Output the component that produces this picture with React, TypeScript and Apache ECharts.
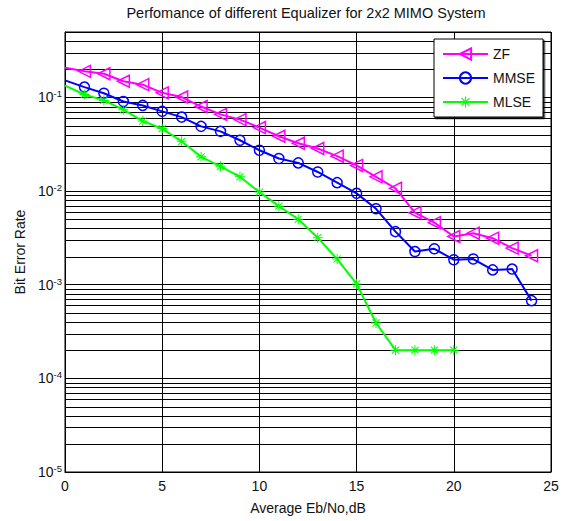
import React, { useEffect, useRef } from "react";
import * as echarts from "echarts";

const snrValues = [0, 1, 2, 3, 4, 5, 6, 7, 8, 9, 10, 11, 12, 13, 14, 15, 16, 17, 18, 19, 20, 21, 22, 23, 24];
const zfBer = [0.208, 0.19, 0.179, 0.149, 0.137, 0.112, 0.101, 0.08, 0.066, 0.058, 0.0477, 0.0385, 0.0324, 0.0285, 0.0236, 0.0188, 0.0142, 0.0107, 0.00588, 0.0046, 0.00327, 0.00355, 0.00314, 0.00246, 0.00204];
const mmseBer = [0.152, 0.129, 0.111, 0.0906, 0.0822, 0.071, 0.0617, 0.0491, 0.0434, 0.0349, 0.0273, 0.0223, 0.02, 0.016, 0.0123, 0.00946, 0.00647, 0.00369, 0.00226, 0.00242, 0.00185, 0.00188, 0.00144, 0.00147, 0.000676];
const mlseBer = [0.134, 0.1076, 0.093, 0.074, 0.056, 0.0465, 0.034, 0.0232, 0.0184, 0.0142, 0.00976, 0.0069, 0.005, 0.00318, 0.00188, 0.00102, 0.00039, 0.0002, 0.0002, 0.0002, 0.0002];
const seriesNames = ["ZF", "MMSE", "MLSE"];
const titleText = "Perfomance of different Equalizer for 2x2 MIMO System";
const xName = "Average Eb/No,dB";
const yName = "Bit Error Rate";
const decadeExponents = [-5, -4, -3, -2, -1];
const minorMultipliers = [2, 3, 4, 5, 6, 7, 8, 9];
const xMin = 0;
const xMax = 25;
const yMin = 1e-5;
const yMax = 0.5;

const FONT = "'Liberation Sans', Arial, sans-serif";
const ASTERISK =
  "path://M9 0h2v20h-2z M0 9h20v2H0z M2.2 3.6L3.6 2.2L17.8 16.4L16.4 17.8z M16.4 2.2L17.8 3.6L3.6 17.8L2.2 16.4z";

function toData(values: number[]) {
  return values.map((v, i) =>
    i === 0 ? { value: [snrValues[i], v], symbol: "none" } : { value: [snrValues[i], v] }
  );
}

export default function App() {
  const ref = useRef<HTMLDivElement>(null);
  useEffect(() => {
    if (!ref.current) return;
    const chart = echarts.init(ref.current, null, { renderer: "svg" });
    const minorLevels: number[] = [];
    decadeExponents.forEach((e) =>
      minorMultipliers.forEach((m) => {
        const v = m * Math.pow(10, e);
        if (v < yMax) minorLevels.push(v);
      })
    );
    chart.setOption({
      animation: false,
      backgroundColor: "#fff",
      textStyle: { fontFamily: FONT },
      graphic: [
        {
          type: "text",
          x: 306,
          y: 5,
          style: {
            text: titleText,
            textAlign: "center",
            textVerticalAlign: "top",
            fontSize: 14.5,
            fontFamily: FONT,
            fill: "#111",
          },
        },
      ],
      grid: {
        left: 65,
        right: 17,
        top: 32,
        bottom: 49,
        show: true,
        borderColor: "#000",
        borderWidth: 1,
        backgroundColor: "#fff",
      },
      legend: {
        data: seriesNames,
        orient: "vertical",
        left: 434,
        top: 39,
        padding: [8, 8, 8, 8],
        itemWidth: 45,
        itemHeight: 14,
        itemGap: 10,
        backgroundColor: "#fff",
        borderColor: "#000",
        borderWidth: 1,
        shadowColor: "rgba(0,0,0,0.8)",
        shadowOffsetX: 1.5,
        shadowOffsetY: 1.5,
        shadowBlur: 0,
        textStyle: { fontSize: 14, color: "#111", fontFamily: FONT },
      },
      xAxis: {
        type: "value",
        min: xMin,
        max: xMax,
        interval: 5,
        name: xName,
        nameLocation: "middle",
        nameGap: 29,
        nameTextStyle: { fontSize: 14, color: "#111", fontFamily: FONT },
        axisLine: { show: true, lineStyle: { color: "#000", width: 1 } },
        axisTick: { show: true, inside: true, length: 3, lineStyle: { color: "#000" } },
        axisLabel: { fontSize: 14, color: "#111", margin: 7, fontFamily: FONT },
        splitLine: { show: true, lineStyle: { color: "#000", width: 1 } },
      },
      yAxis: {
        type: "log",
        logBase: 10,
        min: yMin,
        max: yMax,
        name: yName,
        nameLocation: "middle",
        nameGap: 36,
        nameTextStyle: { fontSize: 14, color: "#111", fontFamily: FONT },
        axisLine: { show: true, lineStyle: { color: "#000", width: 1 } },
        axisTick: { show: true, inside: true, length: 3, lineStyle: { color: "#000" } },
        axisLabel: {
          margin: 3,
          fontSize: 14,
          color: "#111",
          fontFamily: FONT,
          formatter: (v: number) => {
            const e = Math.log10(v);
            const r = Math.round(e);
            if (Math.abs(e - r) > 1e-6) return "";
            return "{b|10}{s|" + r + "}";
          },
          rich: {
            b: { fontSize: 14, color: "#111", fontFamily: FONT },
            s: { fontSize: 9.5, color: "#111", fontFamily: FONT, padding: [0, 0, 7, 0] },
          },
        },
        splitLine: { show: true, lineStyle: { color: "#000", width: 1 } },
      },
      series: [
        {
          type: "custom",
          name: "minor-grid",
          silent: true,
          z: 1,
          data: minorLevels.map((v) => [xMin, v]),
          renderItem: (_params: any, api: any) => {
            const v = api.value(1);
            const p1 = api.coord([xMin, v]);
            const p2 = api.coord([xMax, v]);
            const y = Math.round(p1[1]) + 0.5;
            return {
              type: "line",
              shape: { x1: p1[0], y1: y, x2: p2[0], y2: y },
              style: { stroke: "#000", lineWidth: 1 },
            };
          },
        },
        {
          type: "line",
          name: "ZF",
          z: 4,
          data: toData(zfBer),
          symbol: "triangle",
          symbolRotate: 90,
          symbolSize: 12,
          lineStyle: { color: "#ff00ff", width: 2 },
          itemStyle: { color: "rgba(255,255,255,0)", borderColor: "#ff00ff", borderWidth: 1.5 },
        },
        {
          type: "line",
          name: "MMSE",
          z: 4,
          data: toData(mmseBer),
          symbol: "circle",
          symbolSize: 10,
          lineStyle: { color: "#0000ff", width: 2 },
          itemStyle: { color: "rgba(255,255,255,0)", borderColor: "#0000ff", borderWidth: 1.5 },
        },
        {
          type: "line",
          name: "MLSE",
          z: 4,
          data: toData(mlseBer),
          symbol: ASTERISK,
          symbolSize: 10,
          lineStyle: { color: "#00ff00", width: 2 },
          itemStyle: { color: "#00ff00" },
        },
      ],
    });
    return () => chart.dispose();
  }, []);
  return (
    <div
      ref={ref}
      style={{ position: "fixed", left: 0, top: 0, width: 568, height: 521 }}
    />
  );
}
